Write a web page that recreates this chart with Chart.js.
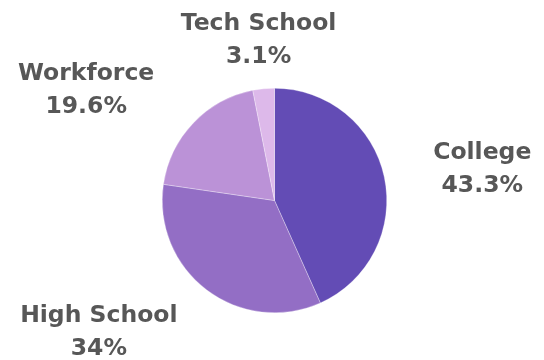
<!DOCTYPE html>
<html lang="en">
<head>
  <meta charset="UTF-8">
  <title>Post-graduation plans</title>
  <script src="https://cdn.jsdelivr.net/npm/chart.js"></script>
  <style>
    body { margin: 0; background: #fff; }
    #wrap { width: 544px; height: 360px; position: relative; }
  </style>
</head>
<body>
  <div id="wrap"><canvas id="pie"></canvas></div>

  <script>
    const categories = ["College", "High School", "Workforce", "Tech School"];
    const shares = [43.3, 34, 19.6, 3.1];
    const shareLabels = ["43.3%", "34%", "19.6%", "3.1%"];
    const sliceColors = ["#634cb5", "#936ec5", "#bb92d7", "#ddb9ea"];

    // label nudges from the slice edge, in px
    const labelOffsets = [[98, -8], [-108, 42], [-107, -33], [-5, -49]];

    const outsideLabels = {
      id: "outsideLabels",
      afterDatasetsDraw(chart) {
        const ctx = chart.ctx;
        const arcs = chart.getDatasetMeta(0).data;
        ctx.save();
        ctx.font = "bold 23.5px 'DejaVu Sans'";
        ctx.fillStyle = "#575757";
        ctx.textAlign = "center";
        ctx.textBaseline = "middle";
        arcs.forEach((arc, i) => {
          const p = arc.getProps(["x", "y", "startAngle", "endAngle", "outerRadius"], true);
          const mid = (p.startAngle + p.endAngle) / 2;
          const x = p.x + Math.cos(mid) * p.outerRadius + labelOffsets[i][0];
          const y = p.y + Math.sin(mid) * p.outerRadius + labelOffsets[i][1];
          ctx.fillText(categories[i], x, y - 16);
          ctx.fillText(shareLabels[i], x, y + 17);
        });
        ctx.restore();
      }
    };

    new Chart(document.getElementById("pie"), {
      type: "pie",
      data: {
        labels: categories,
        datasets: [{
          data: shares,
          backgroundColor: sliceColors,
          borderColor: "rgba(255,255,255,0.6)",
          borderWidth: 0.5
        }]
      },
      options: {
        responsive: true,
        maintainAspectRatio: false,
        animation: false,
        layout: { padding: { top: 88, bottom: 47, left: 162, right: 157 } },
        plugins: {
          legend: { display: false },
          tooltip: { enabled: false }
        }
      },
      plugins: [outsideLabels]
    });
  </script>
</body>
</html>
